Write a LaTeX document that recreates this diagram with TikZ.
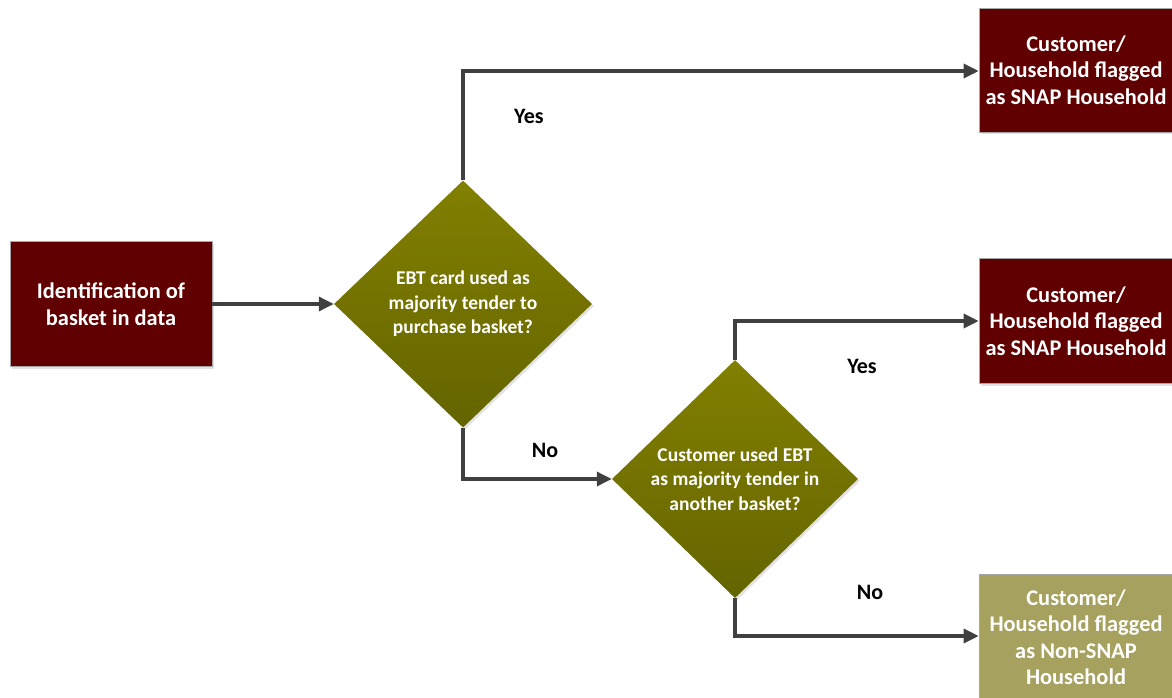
\documentclass[tikz,border=0pt]{standalone}
\usepackage{fontspec}
\setmainfont{Carlito}
\usetikzlibrary{shapes.geometric,arrows.meta,shadows}
\definecolor{boxred}{RGB}{96,0,0}
\definecolor{olivetop}{RGB}{130,128,0}
\definecolor{olivebot}{RGB}{100,100,0}
\definecolor{lightolive}{RGB}{166,161,94}
\definecolor{linegray}{RGB}{64,64,64}
\tikzset{
  boxnode/.style={rectangle, draw=gray!70, line width=0.6pt, fill=boxred, text=white,
    font=\fontsize{22.4}{26.5}\selectfont\bfseries, align=center, inner sep=0pt,
    drop shadow={shadow xshift=2pt, shadow yshift=-2pt, fill=gray!45}},
  decision/.style={diamond, draw=none, top color=olivetop, bottom color=olivebot,
    text=white, font=\fontsize{19.5}{24.5}\selectfont\bfseries, align=center, inner sep=0pt,
    drop shadow={shadow xshift=2pt, shadow yshift=-2pt, fill=gray!45}},
  conn/.style={draw=linegray, line width=3.3pt, -{Triangle[length=15pt,width=14pt]}},
  lbl/.style={font=\fontsize{22}{24}\selectfont\bfseries, text=black}
}
\begin{document}
\begin{tikzpicture}[x=1pt,y=-1pt]
\useasboundingbox (0,0) rectangle (1172,698);
\node[boxnode, minimum width=202pt, minimum height=125pt] (start) at (111,304) {Identification of\\basket in data};
\node[decision, minimum width=258pt, minimum height=247pt] (d1) at (463,304) {EBT card used as\\majority tender to\\purchase basket?};
\node[decision, minimum width=246pt, minimum height=238pt] (d2) at (735,479) {Customer used EBT\\as majority tender in\\another basket?};
\node[boxnode, minimum width=194pt, minimum height=124pt] (snap1) at (1076,70) {Customer/\\Household flagged\\as SNAP Household};
\node[boxnode, minimum width=194pt, minimum height=125pt] (snap2) at (1076,321) {Customer/\\Household flagged\\as SNAP Household};
\node[boxnode, fill=lightolive, minimum width=194pt, minimum height=126pt] (nonsnap) at (1076,637) {Customer/\\Household flagged\\as Non-SNAP\\Household};
\coordinate (c1) at (463,71);
\coordinate (c2) at (463,479);
\coordinate (c3) at (735,321);
\coordinate (c4) at (735,636);
\draw[conn] (start.east) -- (d1.west);
\draw[conn] (d1.north) -- (c1) -- (snap1.west |- c1);
\draw[conn] (d1.south) -- (c2) -- (d2.west);
\draw[conn] (d2.north) -- (c3) -- (snap2.west |- c3);
\draw[conn] (d2.south) -- (c4) -- (nonsnap.west |- c4);
\node[lbl] (y1) at (529,116) {Yes};
\node[lbl] (n1) at (545,450) {No};
\node[lbl] (y2) at (862,366) {Yes};
\node[lbl] (n2) at (870,592) {No};
\end{tikzpicture}
\end{document}
